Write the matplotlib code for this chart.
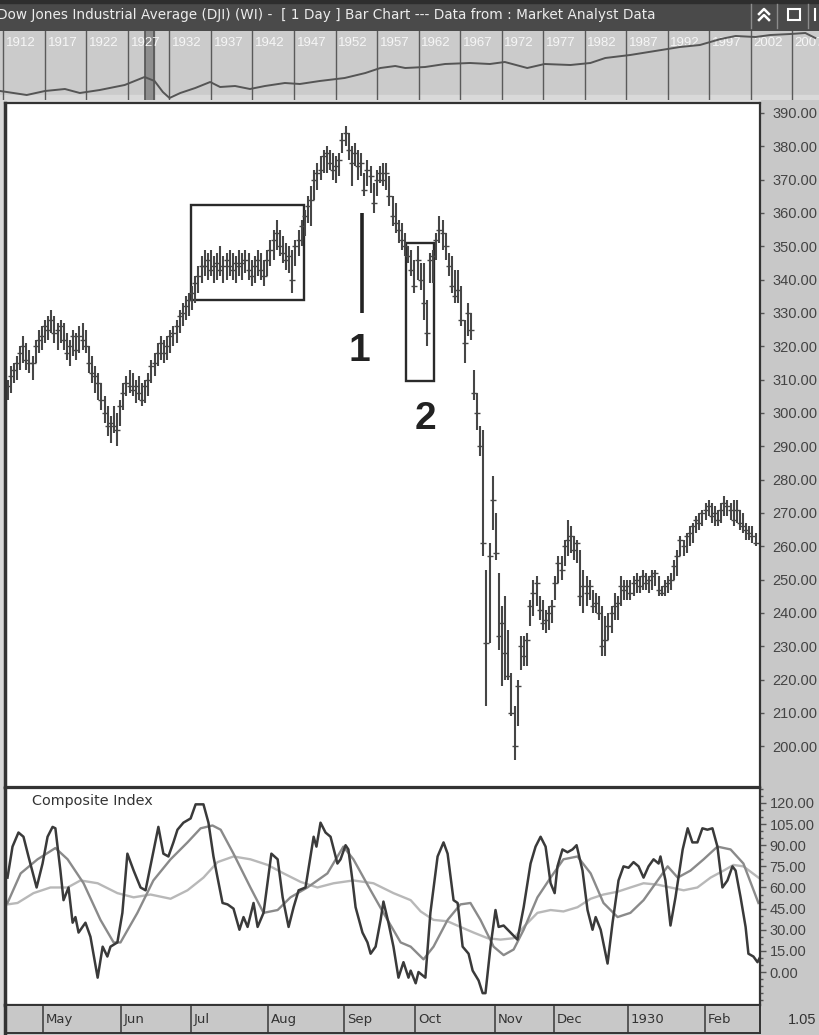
import matplotlib
matplotlib.use("Agg")
import matplotlib.pyplot as plt
from matplotlib.patches import Rectangle
from matplotlib.ticker import MultipleLocator

W, H = 819, 1035

# daily bars, May 1929 - Feb 1930 (high / low / close)
highs = [310, 314, 315, 317, 320, 323, 321, 319, 317, 322, 325, 326, 328, 329, 331, 329, 327, 328, 327, 324,
         322, 325, 324, 326, 327, 325, 320, 317, 314, 312, 309, 305, 302, 299, 302, 300, 304, 309, 311, 313,
         312, 310, 311, 309, 310, 312, 316, 318, 321, 323, 322, 323, 325, 326, 328, 331, 333, 335, 336, 338,
         341, 344, 347, 349, 348, 349, 347, 348, 350, 347, 348, 349, 348, 347, 349, 348, 349, 348, 346, 347,
         349, 348, 346, 349, 352, 355, 358, 355, 353, 351, 350, 349, 352, 355, 358, 361,
         365, 368, 373, 375, 377, 379, 380, 379, 378, 377, 378, 384, 386, 384, 380, 381, 379, 378, 372, 376,
         374, 369, 373, 374, 375, 375, 371, 365, 363, 358, 357, 354,
         350, 349, 346, 350, 345, 345, 334, 348, 349,
         354, 359, 358, 354, 348, 347, 343, 343, 338, 328, 333, 330, 313, 306, 296,
         295, 253, 261, 281, 270, 252, 242, 245, 235, 222, 212, 220,
         233, 233, 234, 244, 250, 251, 245, 244, 241, 242, 244, 251, 257, 257, 262, 268, 266, 263, 262, 259,
         253, 251, 250, 247, 246, 245,
         242, 239, 240, 242, 246, 245, 251, 250, 250, 250, 251, 252, 251, 253, 252, 251, 253, 253, 251, 248,
         250, 251, 252, 256, 259, 263, 262, 264, 266, 267, 269, 270, 271, 273, 274, 273, 272, 271, 273, 275,
         274, 273, 274, 274, 271, 270, 267, 266, 266, 264]
lows = [304, 306, 309, 310, 313, 315, 313, 312, 310, 315, 318, 319, 321, 322, 324, 321, 319, 321, 319, 316,
        314, 317, 316, 318, 319, 318, 312, 309, 306, 304, 301, 297, 293, 291, 294, 290, 296, 301, 305, 306,
        305, 303, 304, 302, 303, 305, 309, 311, 314, 316, 315, 316, 318, 320, 321, 324, 326, 328, 329, 331,
        333, 336, 339, 341, 340, 341, 339, 340, 341, 339, 340, 341, 340, 339, 341, 340, 342, 340, 338, 339,
        341, 340, 338, 341, 344, 346, 349, 347, 345, 343, 342, 336, 344, 347, 350, 353,
        357, 356, 364, 367, 370, 372, 372, 373, 370, 369, 371, 378, 380, 376, 368, 374, 370, 371, 365, 368,
        366, 360, 365, 369, 368, 367, 362, 356, 354, 351, 349, 347,
        345, 341, 336, 340, 337, 328, 320, 339, 339,
        346, 351, 349, 346, 341, 336, 333, 333, 326, 315, 323, 322, 304, 295, 287,
        257, 212, 231, 265, 256, 229, 218, 220, 220, 209, 196, 206,
        223, 224, 224, 236, 239, 242, 238, 235, 234, 235, 237, 244, 249, 250, 254, 257, 258, 256, 255, 242,
        240, 242, 244, 240, 240, 238,
        227, 227, 232, 234, 238, 238, 242, 244, 244, 244, 245, 246, 246, 247, 247, 246, 247, 248, 245, 245,
        245, 246, 247, 250, 251, 257, 257, 258, 260, 261, 264, 265, 266, 268, 269, 267, 266, 266, 267, 269,
        269, 268, 266, 267, 265, 264, 262, 262, 261, 260]
closes = [308, 311, 313, 315, 318, 320, 316, 315, 315, 320, 322, 323, 326, 325, 328, 324, 325, 326, 322, 318,
          320, 323, 319, 323, 322, 320, 315, 312, 311, 309, 304, 300, 296, 297, 296, 295, 302, 306, 309, 308,
          307, 308, 306, 304, 308, 310, 314, 315, 318, 321, 318, 320, 323, 324, 326, 329, 330, 332, 334, 336,
          339, 341, 344, 344, 346, 343, 344, 345, 343, 344, 346, 344, 343, 345, 344, 345, 346, 343, 341, 344,
          346, 343, 341, 346, 349, 352, 354, 350, 348, 346, 347, 340, 350, 352, 356, 359,
          362, 364, 370, 372, 373, 377, 378, 375, 373, 374, 376, 382, 384, 379, 375, 378, 374, 375, 367, 373,
          371, 363, 370, 372, 370, 372, 365, 359, 357, 355, 352, 350,
          347, 343, 338, 346, 340, 333, 324, 346, 347,
          352, 355, 354, 350, 344, 338, 335, 337, 328, 321, 330, 325, 306, 300, 290,
          261, 231, 257, 274, 258, 233, 237, 228, 221, 210, 200, 218,
          230, 227, 232, 242, 246, 249, 241, 237, 238, 240, 242, 249, 255, 253, 260, 262, 263, 259, 261, 245,
          248, 246, 248, 242, 243, 240,
          230, 232, 236, 240, 242, 243, 248, 247, 248, 246, 249, 250, 248, 251, 249, 250, 251, 252, 247, 246,
          248, 249, 250, 254, 257, 262, 260, 263, 264, 266, 268, 267, 270, 271, 272, 269, 270, 268, 271, 273,
          272, 271, 268, 271, 267, 266, 265, 264, 263, 261]

# Composite Index and its two averages (trading day, value)
ci_day = [0, 1.6, 3.5, 5.1, 6.7, 9.3, 11.2, 12.8, 14.4, 15.3, 16.9, 17.9, 19.5, 20.8, 21.7, 22.7, 24.9, 26.5,
          28.8, 30.4, 31.9, 32.9, 35.1, 36.7, 38.3, 40.3, 42.5, 44.1, 46.3, 48.2, 49.8, 51.4, 53.0, 54.3, 56.2,
          58.5, 60.1, 62.6, 64.2, 65.8, 67.1, 68.7, 70.3, 72.2, 74.1, 75.4, 76.7, 78.6, 79.9, 81.8, 84.3, 86.3,
          87.9, 89.8, 91.4, 93.0, 95.2, 96.8, 97.8, 98.7, 100.0, 101.6, 103.2, 105.4, 106.4, 108.0, 108.9,
          110.2, 111.2, 113.4, 115.0, 116.0, 117.6, 119.2, 120.1, 121.7, 123.3, 124.9, 126.5, 128.1, 128.8,
          130.4, 131.3, 133.5, 135.1, 137.4, 139.3, 140.6, 142.5, 143.8, 145.4, 147.3, 148.6, 150.5, 151.8,
          152.7, 154.3, 155.9, 156.9, 158.5, 160.7, 162.9, 164.9, 167.1, 168.7, 170.3, 171.9, 173.5, 174.8,
          175.7, 177.3, 178.9, 180.5, 181.8, 183.7, 185.3, 186.9, 187.9, 189.5, 191.7, 193.3, 195.2, 196.8,
          198.4, 200.0, 201.6, 203.2, 204.8, 206.4, 208.0, 208.6, 210.2, 211.8, 213.4, 215.7, 217.3, 218.8,
          220.4, 222.0, 223.6, 225.2, 226.8, 228.4, 230.0, 231.6, 232.6, 234.2, 235.8, 236.7, 238.3, 239.6,
          240.3]
ci_val = [67, 89, 99, 96, 82, 60, 77, 96, 103, 102, 72, 51, 60, 35, 39, 28, 35, 25,
          -4, 18, 11, 18, 21, 42, 84, 72, 60, 58, 82, 103, 84, 82, 92, 101, 106,
          109, 119, 119, 106, 82, 67, 49, 48, 45, 30, 39, 32, 49, 32, 42, 84, 80,
          53, 32, 46, 58, 60, 82, 96, 89, 106, 99, 96, 77, 80, 90, 87,
          65, 46, 28, 21, 13, 18, 37, 50, 35, 18, -4, 7, -4, 1,
          -8, 0, -4, 42, 82, 92, 84, 51, 49, 18, 13, 1, -6, -15,
          -15, 18, 44, 32, 33, 28, 23, 46, 77, 89, 96, 89, 63, 56,
          75, 87, 85, 87, 90, 72, 44, 30, 39, 30, 6, 35, 65, 75,
          74, 78, 75, 67, 75, 80, 77, 82, 65, 33, 53, 87, 102, 92,
          92, 102, 101, 102, 89, 60, 65, 75, 72, 53, 32, 13, 11, 7,
          10]
fast_day = [0, 4.2, 9.6, 15.3, 19.2, 24.3, 29.7, 33.9, 36.1, 41.5, 46.6, 52.1, 57.5, 61.7, 65.5, 68.1, 72.2,
            77.6, 81.8, 86.3, 90.4, 95.8, 102.2, 107.3, 110.5, 116.0, 120.1, 125.6, 128.8, 132.9, 136.1,
            140.6, 144.7, 147.9, 151.1, 155.3, 158.5, 161.7, 164.9, 169.3, 173.5, 177.6, 182.1, 186.3,
            190.4, 194.9, 199.0, 203.2, 207.7, 210.9, 214.1, 218.2, 222.4, 226.8, 231.0, 235.1, 239.9]
fast_val = [49, 70, 80, 88, 80, 63, 37, 21, 21, 42, 65, 80, 92, 102, 104, 101, 84,
            60, 42, 44, 53, 60, 70, 89, 80, 58, 42, 21, 18, 9, 18,
            37, 48, 49, 37, 18, 12, 16, 30, 53, 67, 80, 82, 70,
            49, 39, 42, 51, 65, 75, 67, 72, 80, 89, 87, 77, 49]
slow_day = [0, 3.2, 8.3, 13.7, 19.2, 23.3, 28.8, 35.1, 40.3, 45.7, 52.1, 57.5, 62.6, 67.1, 72.2, 77.6, 83.1,
            88.2, 93.6, 99.0, 104.2, 110.5, 116.9, 123.3, 128.8, 132.0, 136.1, 140.6, 144.7, 148.9, 153.4,
            157.5, 161.7, 164.9, 169.3, 173.5, 177.6, 182.1, 186.3, 190.4, 194.9, 199.0, 203.2, 207.7,
            211.8, 216.0, 220.4, 224.6, 228.8, 231.9, 235.1, 239.9]
slow_val = [48, 49, 56, 60, 60, 65, 63, 56, 53, 55, 52, 58, 67, 78, 82, 80, 76,
            70, 64, 60, 63, 65, 63, 56, 51, 43, 37, 36, 32, 28, 24,
            23, 24, 32, 42, 44, 43, 46, 52, 55, 57, 60, 63, 62,
            60, 58, 60, 67, 72, 76, 75, 67]

# month boundaries (trading-day index) for the date strip
month_start = [11.3, 36.3, 58.6, 83.2, 107.5, 130.2, 155.8, 174.6, 198.2, 222.8]
month_label = ["May", "Jun", "Jul", "Aug", "Sep", "Oct", "Nov", "Dec", "1930", "Feb"]

# long-term overview strip
ov_year = [1911.6, 1914.8, 1917.0, 1919.4, 1921.2, 1923.6, 1926.6, 1929.0, 1930.2, 1931.2, 1932.0, 1933.3,
           1935.1, 1936.9, 1938.1, 1939.9, 1941.7, 1943.5, 1945.9, 1947.7, 1950.1, 1953.1, 1955.6, 1957.4,
           1959.2, 1960.4, 1962.8, 1965.2, 1968.2, 1970.6, 1972.4, 1975.1, 1977.2, 1980.3, 1982.7, 1984.5,
           1987.5, 1990.5, 1993.5, 1995.9, 1998.4, 2000.2, 2002.6, 2004.4, 2006.8, 2008.6, 2009.8]
ov_level = [9, 5, 9, 11, 7, 10, 15, 23, 19, 8, 2, 7,
            12, 18, 13, 14, 11, 14, 17, 16, 19, 22, 27, 32,
            34, 32, 33, 36, 37, 36, 38, 32, 36, 35, 37, 42,
            45, 49, 53, 55, 61, 64, 63, 65, 66, 67, 62]
ov_years_lbl = list(range(1912, 2008, 5))

# annotation boxes: (day0, day1, price0, price1)
box1 = (58.6, 94.7, 333.9, 362.4)
box2 = (127.3, 136.3, 309.6, 351.0)

bar_col = "#464646"
num_font = "Liberation Sans"
XLIM = (-0.8, 240.4)

fig = plt.figure(figsize=(W / 100, H / 100), dpi=100)
fig.patch.set_facecolor("#c8c8c8")


def px(x0, y0, x1, y1):
    return [x0 / W, 1 - y1 / H, (x1 - x0) / W, (y1 - y0) / H]


def bare(a, fc):
    a.set_facecolor(fc)
    a.set_xticks([])
    a.set_yticks([])
    for s in a.spines.values():
        s.set_visible(False)


# chrome in pixel coordinates
bg = fig.add_axes([0, 0, 1, 1])
bg.set_xlim(0, W)
bg.set_ylim(H, 0)
bg.axis("off")
bg.add_patch(Rectangle((0, 0), W, 31, color="#4a4a4a"))
bg.add_patch(Rectangle((0, 0), W, 3, color="#2e2e2e"))
bg.add_patch(Rectangle((0, 100), 760, 3, color="#dedede"))
bg.add_patch(Rectangle((0, 100), 5, 935, color="#d8d8d8"))
bg.text(-3, 15.5, "Dow Jones Industrial Average (DJI) (WI) -  [ 1 Day ] Bar Chart --- Data from : Market Analyst Data",
        color="#ececec", fontsize=9.8, va="center", ha="left")
for xs in (751, 777, 808):
    bg.plot([xs, xs], [4, 28], color="#8c8c8c", lw=1)
bg.plot([759, 764, 769], [14, 9, 14], color="white", lw=1.8)
bg.plot([759, 764, 769], [20, 15, 20], color="white", lw=1.8)
bg.add_patch(Rectangle((788, 9), 12, 11, fill=False, ec="white", lw=1.5))
bg.plot([815, 815], [9, 20], color="white", lw=1.5)
bg.text(816, 1020, "1.05", fontsize=10.5, family=num_font, color="#333", ha="right", va="center")

# overview strip
ov = fig.add_axes(px(0, 31, W, 100))
bare(ov, "#cbcbcb")
ov.set_xlim(1911.58, 2010.25)
ov.set_ylim(0, 69)
ov.axhspan(0, 5, color="#d9d9d9", zorder=0)
ov.axvspan(1929.0, 1930.1, color="#8e8e8e", zorder=1)
ov.axvline(1929.0, color="#555", lw=1.2)
ov.axvline(1930.1, color="#555", lw=1.2)
for yr in ov_years_lbl:
    ov.axvline(yr, color="#5a5a5a", lw=1)
    ov.text(yr + 0.3, 57, str(yr), color="#f6f6f6", fontsize=9.5, family=num_font, va="center", ha="left")
ov.plot(ov_year, ov_level, color="#555555", lw=1.4, zorder=3)

# price panel
ax = fig.add_axes(px(5, 103, 760, 787))
ax.set_facecolor("white")
days = list(range(len(highs)))
ax.vlines(days, lows, highs, color=bar_col, lw=1.5)
ax.plot(days, closes, ls="none", marker="_", ms=4.5, mew=1.0, color=bar_col)
ax.set_xlim(*XLIM)
ax.set_ylim(187.8, 393.0)
ax.set_xticks([])
ax.yaxis.tick_right()
ticks = list(range(200, 400, 10))
ax.set_yticks(ticks)
ax.set_yticklabels([f"{t:.2f}" for t in ticks], fontfamily=num_font)
ax.tick_params(axis="y", direction="out", length=3, width=1, color="#555", labelsize=10.5,
               labelcolor="#444", pad=6)
for s in ax.spines.values():
    s.set_color("#333")
    s.set_linewidth(1.6)
ax.spines["left"].set_linewidth(2.5)

for b in (box1, box2):
    ax.add_patch(Rectangle((b[0], b[2]), b[1] - b[0], b[3] - b[2], fill=False, ec="#2a2a2a", lw=1.7))
ax.vlines(113.3, 330, 360, color="#222", lw=2.6)
ax.text(112.4, 315.6, "1", fontsize=28, fontweight="bold", family=num_font, color="#222",
        ha="center", va="baseline")
ax.text(133.4, 295.2, "2", fontsize=28, fontweight="bold", family=num_font, color="#222",
        ha="center", va="baseline")

# composite index panel
cx = fig.add_axes(px(5, 788, 760, 1005))
cx.set_facecolor("white")
cx.plot(slow_day, slow_val, color="#b8b8b8", lw=1.7)
cx.plot(fast_day, fast_val, color="#8a8a8a", lw=1.7)
cx.plot(ci_day, ci_val, color="#3a3a3a", lw=1.8)
cx.set_xlim(*XLIM)
cx.set_ylim(-23.4, 130.6)
cx.set_xticks([])
cx.yaxis.tick_right()
cticks = list(range(0, 135, 15))
cx.set_yticks(cticks)
cx.set_yticklabels([f"{t:.2f}" for t in cticks], fontfamily=num_font)
cx.yaxis.set_minor_locator(MultipleLocator(5))
cx.tick_params(axis="y", which="major", direction="out", length=4, width=1, color="#555",
               labelsize=10.5, labelcolor="#444", pad=3)
cx.tick_params(axis="y", which="minor", direction="out", length=2.5, width=1, color="#555")
for s in cx.spines.values():
    s.set_color("#333")
    s.set_linewidth(1.6)
cx.spines["left"].set_linewidth(2.5)
cx.text(0.036, 0.94, "Composite Index", transform=cx.transAxes, fontsize=10.4, color="#333",
        va="center", ha="left")

# date strip
dx = fig.add_axes(px(5, 1005, 760, 1033))
dx.set_facecolor("#c8c8c8")
dx.set_xlim(*XLIM)
dx.set_ylim(0, 1)
dx.set_xticks([])
dx.set_yticks([])
for s in dx.spines.values():
    s.set_color("#333")
    s.set_linewidth(1.4)
dx.spines["left"].set_linewidth(2.5)
for d, lbl in zip(month_start, month_label):
    dx.axvline(d, color="#444", lw=1.2)
    dx.text(d + 0.9, 0.48, lbl, fontsize=9.5, color="#333", va="center", ha="left")

fig.savefig("out.png", dpi=100, facecolor=fig.get_facecolor())
